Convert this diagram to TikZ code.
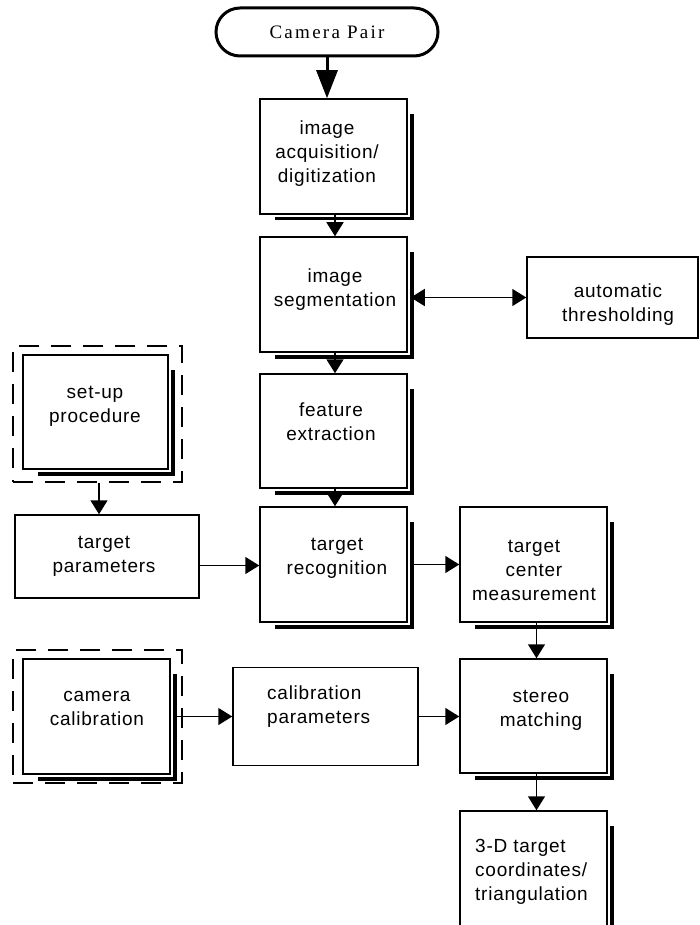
\documentclass[tikz,border=0pt]{standalone}
\usepackage{fontspec}
\setmainfont{Liberation Serif}
\newfontfamily\arialls{Liberation Sans}[LetterSpace=4]
\newfontfamily\timesls{Liberation Serif}[LetterSpace=12]
\usetikzlibrary{arrows.meta,shapes.misc,calc}
\newcommand\boxshadow[1]{\draw[shad] ([xshift=16pt,yshift=-4pt]#1.south west) -| ([xshift=4pt,yshift=-16pt]#1.north east);}
\begin{document}
\begin{tikzpicture}[x=1pt,y=-1pt,
  bx/.style 2 args={draw, line width=1.5pt, minimum width=#1, minimum height=#2, inner sep=0pt},
  dbox/.style 2 args={draw, line width=1.5pt, dash pattern=on 20pt off 12pt, minimum width=#1, minimum height=#2, inner sep=0pt},
  shad/.style={line width=3.5pt},
  txt/.style={font=\arialls\fontsize{19}{24}\selectfont, align=center, inner sep=0pt},
  arr/.style={line width=1.5pt, -{Triangle[length=14pt,width=17pt]}},
  darr/.style={line width=1.5pt, {Triangle[length=14pt,width=17pt]}-{Triangle[length=14pt,width=17pt]}},
  bigarr/.style={line width=3pt, -{Triangle[length=28pt,width=21pt]}}]
\clip (0,0) rectangle (699,925);
\fill[white] (0,0) rectangle (699,925);

% start terminal
\node[draw, rounded rectangle, line width=3pt, minimum width=222pt, minimum height=48pt, inner sep=0pt,
      font=\timesls\fontsize{19}{24}\selectfont] (cam) at (327,32) {Camera Pair};

% main column
\node[bx={147pt}{115pt}] (acq) at (333.5,156.5) {};
\node[txt] (acqt) at (327,154) {image\\acquisition/\\digitization};
\node[bx={147pt}{115pt}] (seg) at (333.5,294.5) {};
\node[txt] (segt) at (335,290) {image\\segmentation};
\node[bx={147pt}{114pt}] (feat) at (333.5,431) {};
\node[txt] (featt) at (331,422) {feature\\extraction};
\node[bx={147pt}{115pt}] (rec) at (333.5,564.5) {};
\node[txt] (rect) at (337,558) {target\\recognition};

% right column
\node[bx={171pt}{81pt}] (auto) at (612.5,297.5) {};
\node[txt] (autot) at (618,305) {automatic\\thresholding};
\node[bx={147pt}{115pt}] (tcm) at (533.5,564.5) {};
\node[txt] (tcmt) at (534,570) {target\\center\\measurement};
\node[bx={147pt}{114pt}] (stereo) at (533.5,716) {};
\node[txt] (stereot) at (541,710) {stereo\\matching};
\node[bx={147pt}{129pt}] (tri) at (533.5,875.5) {};
\node[txt, anchor=west, align=left] (trit) at (475,872) {3-D target\\coordinates/\\triangulation};

% left column
\node[dbox={169pt}{136pt}] (setout) at (97.5,414) {};
\node[bx={145pt}{114pt}] (setup) at (95.5,412) {};
\node[txt] (setupt) at (95,406.5) {set-up\\procedure};
\node[bx={184pt}{83pt}] (tpar) at (107,556.5) {};
\node[txt] (tpart) at (104,556.5) {target\\parameters};
\node[dbox={169pt}{133pt}] (camout) at (97.5,716.5) {};
\node[bx={147pt}{115pt}] (camcal) at (96.5,716.5) {};
\node[txt] (camcalt) at (97,708.5) {camera\\calibration};
\node[bx={185pt}{98pt}] (calpar) at (325.5,716.5) {};
\node[txt, anchor=west, align=left] (calpart) at (267,706.5) {calibration\\parameters};

% shadows
\boxshadow{acq}
\boxshadow{seg}
\boxshadow{feat}
\boxshadow{rec}
\boxshadow{tcm}
\boxshadow{stereo}
\boxshadow{tri}
\boxshadow{setup}
\boxshadow{camcal}

% connectors
\draw[bigarr] (cam.south) -- (cam.south |- acq.north);
\draw[arr] ([xshift=1.5pt]acq.south) -- ([xshift=1.5pt]seg.north);
\draw[darr] ([xshift=3pt]auto.west -| seg.east) -- (auto.west);
\draw[arr] ([xshift=1.5pt]seg.south) -- ([xshift=1.5pt]feat.north);
\draw[arr] ([xshift=1.5pt]feat.south) -- ([xshift=1.5pt]rec.north);
\draw[arr] ([xshift=1.5pt]setout.south) -- ([xshift=1.5pt]setout.south |- tpar.north);
\draw[arr] ([yshift=-9pt]tpar.east) -- ([yshift=-9pt]tpar.east -| rec.west);
\draw[arr] ([xshift=3pt]rec.east) -- (tcm.west);
\draw[arr] ([xshift=3pt]tcm.south) -- ([xshift=3pt]stereo.north);
\draw[arr] ([xshift=3pt]camcal.east) -- (calpar.west);
\draw[arr] (calpar.east) -- (calpar.east -| stereo.west);
\draw[arr] ([xshift=3pt]stereo.south) -- ([xshift=3pt]tri.north);
\end{tikzpicture}
\end{document}
